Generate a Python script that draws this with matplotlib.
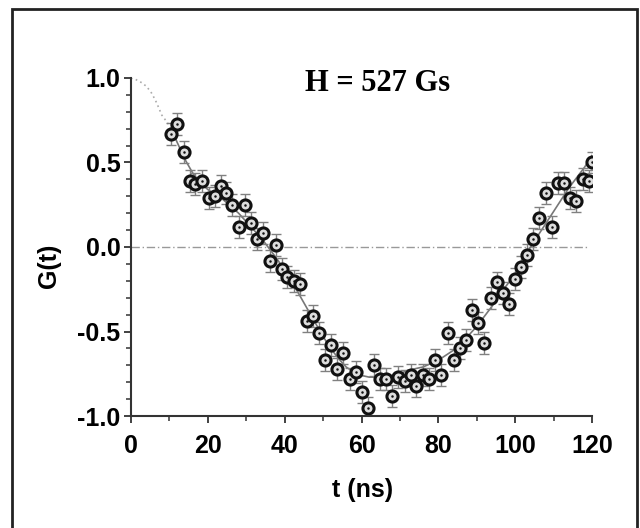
import matplotlib
matplotlib.use("Agg")
import matplotlib.pyplot as plt
from matplotlib.patches import Rectangle
from matplotlib.ticker import MultipleLocator
import numpy as np

# measured points (t in ns, G(t))
t_data = [10.5, 12.0, 13.8, 15.3, 16.7, 18.4, 20.2, 21.8, 23.3, 24.8,
          26.4, 28.0, 29.6, 31.3, 32.8, 34.4, 36.1, 37.7, 39.2, 40.7,
          42.3, 44.1, 45.7, 47.3, 48.9, 50.5, 52.1, 53.7, 55.3, 56.9,
          58.5, 60.1, 61.6, 63.2, 64.8, 66.3, 68.0, 69.6, 71.2, 72.8,
          74.3, 75.9, 77.5, 79.2, 80.7, 82.4, 84.0, 85.6, 87.2, 88.8,
          90.4, 92.0, 93.6, 95.2, 96.8, 98.4, 100.0, 101.5, 103.1, 104.7,
          106.3, 107.9, 109.6, 111.1, 112.8, 114.3, 115.9, 117.6, 119.1, 120.0]
g_data = [0.67, 0.73, 0.56, 0.39, 0.37, 0.39, 0.29, 0.30, 0.36, 0.32,
          0.25, 0.12, 0.25, 0.14, 0.05, 0.08, -0.08, 0.01, -0.13, -0.18,
          -0.20, -0.22, -0.44, -0.41, -0.51, -0.67, -0.58, -0.72, -0.63, -0.78,
          -0.74, -0.86, -0.95, -0.70, -0.78, -0.78, -0.88, -0.77, -0.79, -0.76,
          -0.82, -0.76, -0.78, -0.67, -0.76, -0.51, -0.67, -0.60, -0.55, -0.37,
          -0.45, -0.57, -0.30, -0.21, -0.27, -0.34, -0.19, -0.12, -0.05, 0.05,
          0.17, 0.32, 0.12, 0.38, 0.38, 0.29, 0.27, 0.40, 0.39, 0.50]
g_err = 0.065

# fitted curve
t_fit_early = [0, 1.0, 2.8, 4.1, 5.4, 6.4, 7.1, 8.0, 9.3, 10.5]
g_fit_early = [1.0, 0.994, 0.972, 0.949, 0.909, 0.866, 0.830, 0.781, 0.741, 0.70]
t_fit = [10.5, 12, 14, 16, 18, 20, 22, 24, 26, 28, 30, 32, 34, 36, 38, 40,
         42, 44, 46, 48, 50, 52, 54, 56, 58, 60, 62, 64, 66, 68, 70, 72,
         74, 76, 78, 80, 82, 84, 86, 88, 90, 92, 94, 96, 98, 100, 102, 104,
         106, 108, 110, 112, 114, 116, 118, 120]
g_fit = [0.70, 0.62, 0.52, 0.44, 0.38, 0.34, 0.31, 0.28, 0.24, 0.20, 0.15,
         0.10, 0.05, -0.01, -0.07, -0.14, -0.21, -0.29, -0.37, -0.45, -0.53,
         -0.60, -0.66, -0.71, -0.74, -0.76, -0.77, -0.77, -0.77, -0.76, -0.75,
         -0.73, -0.72, -0.71, -0.69, -0.67, -0.64, -0.61, -0.57, -0.52, -0.47,
         -0.41, -0.35, -0.28, -0.22, -0.16, -0.08, 0.00, 0.07, 0.14, 0.21,
         0.28, 0.35, 0.41, 0.47, 0.54]

plt.rcParams["axes.unicode_minus"] = False
plt.rcParams["font.family"] = "Liberation Sans"
plt.rcParams["font.weight"] = "bold"

fig = plt.figure(figsize=(6.4, 5.28), dpi=100)
ax = fig.add_axes([0.2047, 0.2121, 0.7203, 0.6402])

# frame around the whole figure
fig.patches.append(Rectangle((0.019, -0.02), 0.976, 1.003, transform=fig.transFigure,
                             fill=False, edgecolor="#222222", linewidth=2))

ax.axhline(0, xmin=0, xmax=119 / 120, color="#999999", lw=1, ls=(0, (6, 2, 1, 2)))

ax.plot(t_fit_early, g_fit_early, color="#aaaaaa", lw=1.2, ls=(0, (1, 2)))
ax.plot(t_fit, g_fit, color="#777777", lw=1.2)

ax.errorbar(t_data, g_data, yerr=g_err, fmt="none", ecolor="#808080",
            elinewidth=1, capsize=3.5, capthick=1)
ax.plot(t_data, g_data, "o", ms=8, mfc="#dddddd", mec="#111111", mew=2.2)
ax.plot(t_data, g_data, "o", ms=1.8, mfc="#111111", mec="#111111", mew=0)

ax.set_xlim(0, 120)
ax.set_ylim(-1.0, 1.0)
ax.xaxis.set_major_locator(MultipleLocator(20))
ax.xaxis.set_minor_locator(MultipleLocator(10))
ax.yaxis.set_major_locator(MultipleLocator(0.5))
ax.yaxis.set_minor_locator(MultipleLocator(0.1))
ax.set_yticks([1.0, 0.5, 0.0, -0.5, -1.0])
ax.set_yticklabels(["1.0", "0.5", "0.0", "-0.5", "-1.0"])

for s in ["top", "right"]:
    ax.spines[s].set_visible(False)
for s in ["left", "bottom"]:
    ax.spines[s].set_linewidth(1.5)
    ax.spines[s].set_color("#333333")

ax.tick_params(which="major", direction="out", length=5, width=1.3,
               color="#333333", labelsize=18, pad=2.5)
ax.tick_params(which="minor", direction="out", length=3.5, width=1.1, color="#333333")
ax.tick_params(axis="x", pad=8)

ax.set_xlabel("t (ns)", fontsize=18, fontweight="bold")
ax.set_ylabel("G(t)", fontsize=18, fontweight="bold")
ax.xaxis.set_label_coords(0.503, -0.183)
ax.yaxis.set_label_coords(-0.152, 0.444)

ax.text(0.534, 0.962, "H = 527 Gs", transform=ax.transAxes, ha="center",
        va="baseline", fontsize=22, fontweight="bold", family="Liberation Serif")

fig.savefig("out.png", dpi=100)
